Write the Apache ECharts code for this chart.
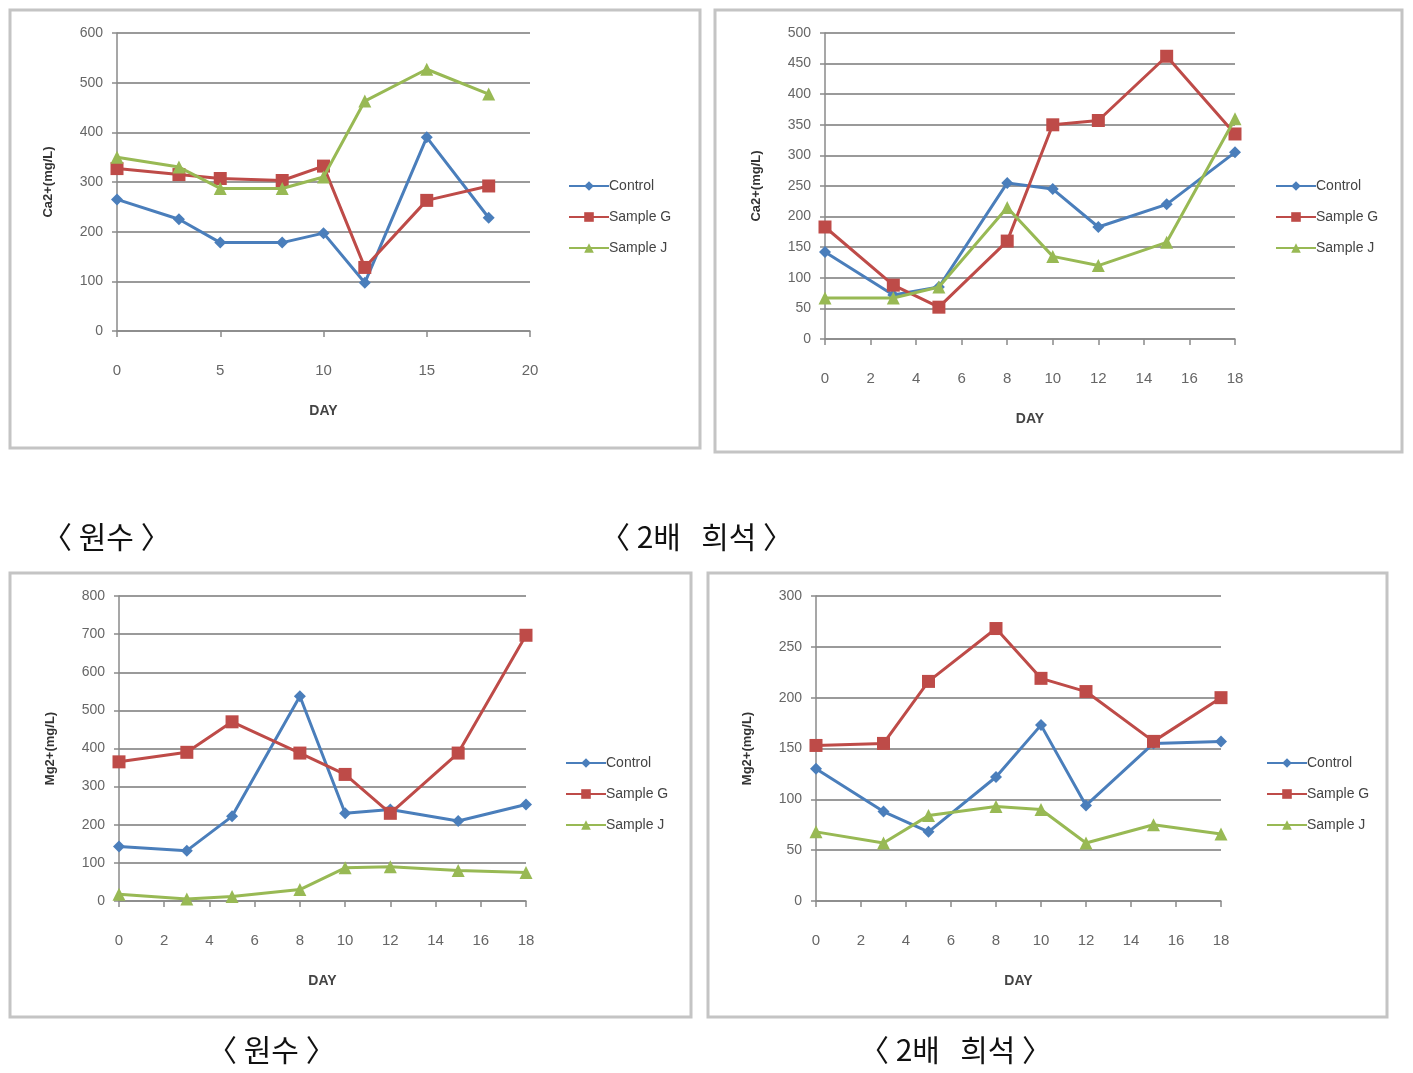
<!DOCTYPE html>
<html>
<head>
<meta charset="utf-8">
<script src="https://cdn.jsdelivr.net/npm/echarts@6/dist/echarts.min.js"></script>
<style>
html,body{margin:0;padding:0;background:#fff;}
#c{width:1413px;height:1073px;}
</style>
</head>
<body>
<div id="c"></div>
<script>
const days = [0, 3, 5, 8, 10, 12, 15, 18];
const seriesNames = ['Control', 'Sample G', 'Sample J'];

// Panel 1: Ca2+ raw water
const caRawControl = [265, 225, 178, 178, 197, 97, 390, 228];
const caRawG = [327, 315, 307, 303, 332, 128, 263, 292];
const caRawJ = [350, 330, 287, 287, 310, 463, 527, 477];

// Panel 2: Ca2+ 2x dilution
const caDilControl = [142, 72, 85, 255, 245, 183, 220, 305];
const caDilG = [183, 88, 52, 160, 350, 357, 462, 335];
const caDilJ = [67, 67, 85, 215, 135, 120, 158, 360];

// Panel 3: Mg2+ raw water
const mgRawControl = [143, 132, 222, 537, 230, 240, 210, 253];
const mgRawG = [365, 390, 470, 388, 332, 230, 388, 697];
const mgRawJ = [18, 5, 12, 30, 87, 90, 80, 75];

// Panel 4: Mg2+ 2x dilution
const mgDilControl = [130, 88, 68, 122, 173, 94, 155, 157];
const mgDilG = [153, 155, 216, 268, 219, 206, 157, 200];
const mgDilJ = [68, 57, 84, 93, 90, 57, 75, 66];

const captions = ['〈 원수 〉', '〈 2배   희석 〉'];
const yTitles = ['Ca2+(mg/L)', 'Mg2+(mg/L)'];

const colors = ['#4a7ebb', '#be4b48', '#98b954'];
const symbols = ['diamond', 'rect', 'triangle'];
const symbolSizes = [12, 13, 13];

const panels = [
  {grid:{left:117, top:33, width:413, height:298}, xmax:20, xint:5, ymax:600, yint:100, title:yTitles[0], data:[caRawControl, caRawG, caRawJ], legend:{left:563, top:174}},
  {grid:{left:825, top:33, width:410, height:306}, xmax:18, xint:2, ymax:500, yint:50, title:yTitles[0], data:[caDilControl, caDilG, caDilJ], legend:{left:1270, top:174}},
  {grid:{left:119, top:596, width:407, height:305}, xmax:18, xint:2, ymax:800, yint:100, title:yTitles[1], data:[mgRawControl, mgRawG, mgRawJ], legend:{left:560, top:751}},
  {grid:{left:816, top:596, width:405, height:305}, xmax:18, xint:2, ymax:300, yint:50, title:yTitles[1], data:[mgDilControl, mgDilG, mgDilJ], legend:{left:1261, top:751}}
];

const grids = [], xAxes = [], yAxes = [], series = [], legends = [];
const axisColor = '#8a8a8a';
panels.forEach((p, i) => {
  grids.push(Object.assign({containLabel:false}, p.grid));
  xAxes.push({
    type:'value', gridIndex:i, min:0, max:p.xmax, interval:p.xint,
    name:'DAY', nameLocation:'middle', nameGap:73,
    nameTextStyle:{fontFamily:'Liberation Sans', fontWeight:'bold', fontSize:14, color:'#444'},
    axisLine:{show:true, onZero:false, lineStyle:{color:axisColor, width:1.5}},
    axisTick:{show:true, length:6, lineStyle:{color:axisColor, width:1.5}},
    axisLabel:{margin:32, fontFamily:'Liberation Sans', fontSize:15, color:'#666'},
    splitLine:{show:false}
  });
  yAxes.push({
    type:'value', gridIndex:i, min:0, max:p.ymax, interval:p.yint,
    name:p.title, nameLocation:'middle', nameGap:62, nameRotate:90,
    nameTextStyle:{fontFamily:'Liberation Sans', fontWeight:'bold', fontSize:13, color:'#333'},
    axisLine:{show:true, lineStyle:{color:axisColor, width:1.5}},
    axisTick:{show:true, length:5, lineStyle:{color:axisColor, width:1.5}},
    axisLabel:{margin:14, fontFamily:'Liberation Sans', fontSize:14, color:'#666'},
    splitLine:{show:true, lineStyle:{color:'#9a9a9a', width:2}}
  });
  p.data.forEach((vals, k) => {
    series.push({
      name:seriesNames[k], type:'line', xAxisIndex:i, yAxisIndex:i,
      data:days.map((d, j) => [d, vals[j]]),
      symbol:symbols[k], symbolSize:symbolSizes[k], showAllSymbol:true,
      lineStyle:{color:colors[k], width:3},
      itemStyle:{color:colors[k]},
      z:2+k
    });
  });
  legends.push({
    left:p.legend.left, top:p.legend.top, orient:'vertical', itemGap:17,
    itemWidth:40, itemHeight:12,
    data:seriesNames,
    textStyle:{fontFamily:'Liberation Sans', fontSize:14, color:'#444', padding:[0,0,0,-5]},
    selectedMode:false
  });
});

const frames = [
  {x:10, y:10, w:690, h:438},
  {x:715, y:10, w:687, h:442},
  {x:10, y:573, w:681, h:444},
  {x:708, y:573, w:679, h:444}
];
const graphic = frames.map(f => ({
  type:'rect', shape:{x:f.x, y:f.y, width:f.w, height:f.h},
  style:{fill:'none', stroke:'#c4c4c4', lineWidth:3}, silent:true, z:-1
}));
const capPos = [
  {x:42, y:541, t:captions[0]},
  {x:600, y:541, t:captions[1]},
  {x:207, y:1054, t:captions[0]},
  {x:859, y:1054, t:captions[1]}
];
capPos.forEach(c => graphic.push({
  type:'text', left:c.x, top:c.y - 19,
  style:{text:c.t, font:'30px "Noto Sans CJK KR"', fill:'#111'}
}));

const chart = echarts.init(document.getElementById('c'));
chart.setOption({
  animation:false,
  backgroundColor:'#fff',
  grid:grids, xAxis:xAxes, yAxis:yAxes, series:series, legend:legends, graphic:graphic
});
</script>
</body>
</html>
